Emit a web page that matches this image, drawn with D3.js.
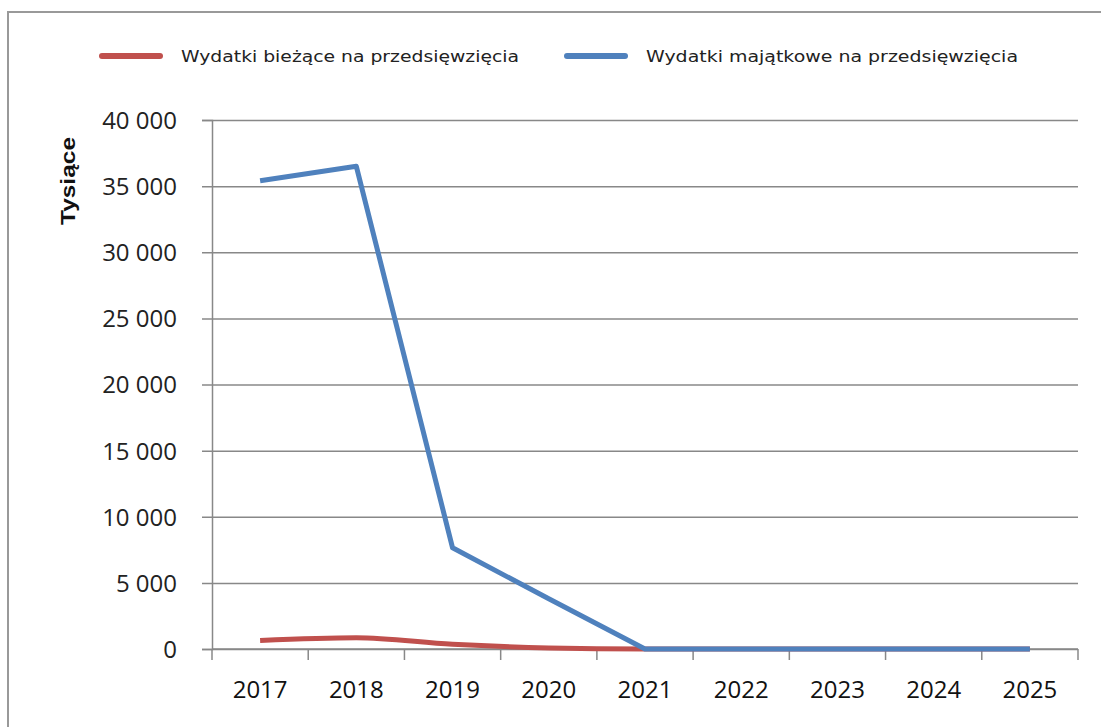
<!DOCTYPE html>
<html><head><meta charset="utf-8">
<script src="https://cdn.jsdelivr.net/npm/d3@7"></script>
<style>body{margin:0;background:#fff}svg{display:block}</style>
</head><body>
<svg id="c" width="1101" height="727"></svg>
<script>
const years = ["2017","2018","2019","2020","2021","2022","2023","2024","2025"];
const biezace = [650, 850, 350, 80, 0, 0, 0, 0, 0];
const majatkowe = [35400, 36500, 7650, 3800, 0, 0, 0, 0, 0];
const yTicks = [0, 5000, 10000, 15000, 20000, 25000, 30000, 35000, 40000];
const seriesNames = ["Wydatki bieżące na przedsięwzięcia", "Wydatki majątkowe na przedsięwzięcia"];
const colors = ["#C0504D", "#4F81BD"];

const svg = d3.select("#c");
svg.append("rect").attr("x",8).attr("y",12).attr("width",1200).attr("height",800)
  .attr("fill","#fff").attr("stroke","#999").attr("stroke-width",2);

const L=212, R=1078, T=120, B=649;
const x = d3.scaleBand().domain(years).range([L,R]);
const y = d3.scaleLinear().domain([0,40000]).range([B,T]);
const fmt = v => d3.format(",")(v).replace(/,/g," ");
const numFont = "'Open Sans', 'Liberation Sans', sans-serif";

// gridlines & y axis
const ga = svg.append("g").attr("transform",`translate(${L},0)`)
  .call(d3.axisLeft(y).tickValues(yTicks).tickSize(10).tickFormat(fmt));
ga.select(".domain").attr("stroke","#888").attr("stroke-width",1.5);
ga.selectAll(".tick line").attr("stroke","#888").attr("stroke-width",1.5).attr("x2",R-L).attr("x1",-10);
ga.selectAll(".tick text").attr("x",-35).attr("dy","0.35em").attr("font-family",numFont)
  .attr("font-size",24).attr("fill","#222");

// x axis
const gx = svg.append("g").attr("transform",`translate(0,${B})`)
  .call(d3.axisBottom(x).tickSize(0).tickPadding(32));
gx.select(".domain").remove();
gx.selectAll(".tick text").attr("font-family",numFont)
  .attr("font-size",24).attr("fill","#111");
// category boundary ticks
const bounds = years.map(d=>x(d)).concat([R]);
svg.append("g").selectAll("line").data(bounds).join("line")
  .attr("x1",d=>d).attr("x2",d=>d).attr("y1",B).attr("y2",B+11)
  .attr("stroke","#888").attr("stroke-width",1.5);
svg.append("line").attr("x1",L).attr("x2",R).attr("y1",B).attr("y2",B).attr("stroke","#888").attr("stroke-width",1.5);

// y label
svg.append("text").attr("transform","translate(75,181) rotate(-90)")
  .attr("text-anchor","middle").attr("font-family","'Liberation Sans', Arial, sans-serif")
  .attr("font-weight","bold").attr("font-size",21).attr("fill","#111")
  .attr("textLength",88).attr("lengthAdjust","spacingAndGlyphs").text("Tysiące");

const cx = d => x(d) + x.bandwidth()/2;
const lineSmooth = d3.line().x((d,i)=>cx(years[i])).y(d=>y(d)).curve(d3.curveMonotoneX);
const lineStraight = d3.line().x((d,i)=>cx(years[i])).y(d=>y(d));
svg.append("path").attr("d",lineSmooth(biezace)).attr("fill","none")
  .attr("stroke",colors[0]).attr("stroke-width",5).attr("stroke-linejoin","round");
svg.append("path").attr("d",lineStraight(majatkowe)).attr("fill","none")
  .attr("stroke",colors[1]).attr("stroke-width",5).attr("stroke-linejoin","round");

// legend
const leg = [{x1:102,x2:160,tx:181,tw:338},{x1:567,x2:625,tx:646,tw:372}];
leg.forEach((l,i)=>{
  svg.append("line").attr("x1",l.x1).attr("x2",l.x2).attr("y1",56).attr("y2",56)
    .attr("stroke",colors[i]).attr("stroke-width",6).attr("stroke-linecap","round");
  svg.append("text").attr("x",l.tx).attr("y",62).attr("font-family","'DejaVu Sans', sans-serif")
    .attr("font-size",15).attr("fill","#222").attr("textLength",l.tw).attr("lengthAdjust","spacingAndGlyphs")
    .text(seriesNames[i]);
});
</script>
</body></html>
